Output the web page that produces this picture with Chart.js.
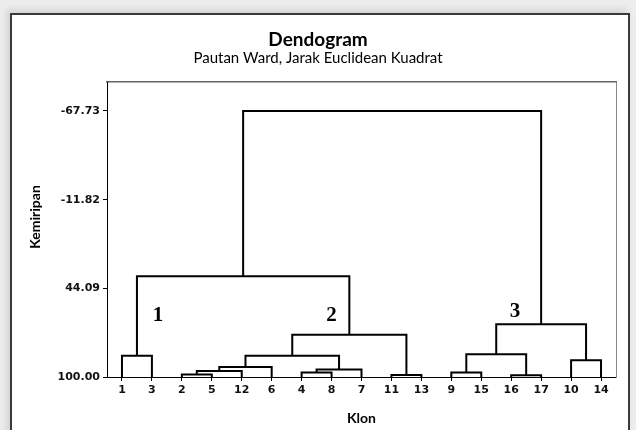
<!DOCTYPE html>
<html>
<head>
<meta charset="utf-8">
<script src="https://cdn.jsdelivr.net/npm/chart.js@4.4.1/dist/chart.umd.min.js"></script>
<style>
    html, body { margin: 0; padding: 0; }
    body { width: 636px; height: 430px; background: #ededed; position: relative; overflow: hidden; }
    .kotak { position: absolute; left: 10px; top: 13px; width: 620px; height: 440px; background: #fff;
             border: 2px solid #3a3a3a; box-sizing: border-box; box-shadow: -3px -3px 7px rgba(0,0,0,0.12); }
    canvas { position: absolute; left: 0; top: 0; }
</style>
</head>
<body>
<div class="kotak"></div>
<canvas id="dendoChart" width="636" height="430"></canvas>
<script>
// urutan klon di sumbu x
const klon = ["1", "3", "2", "5", "12", "6", "4", "8", "7", "11", "13", "9", "15", "16", "17", "10", "14"];

// penggabungan: m0..m15 (mN = hasil gabungan ke-N)
const gabungKiri  = ["1", "2", "m1", "m2", "4", "m4", "m3", "11", "m6", "m0", "9", "16", "m10", "10", "m12", "m9"];
const gabungKanan = ["3", "5", "12", "6", "8", "7", "m5", "13", "m7", "m8", "15", "17", "m11", "14", "m13", "m14"];
const tinggiGabung = [86.6, 98.5, 96.2, 93.7, 97.2, 95.3, 86.6, 98.7, 73.3, 36.4, 97.2, 98.9, 85.7, 89.5, 66.7, -67.73];

const tickKemiripan = [-67.73, -11.82, 44.09, 100.00];

const labelKelompok = ["1", "2", "3"];
const kelompokX = [2.2, 8.0, 14.13];
const kelompokY = [61.0, 61.0, 58.5];

const posisi = {};
klon.forEach((k, i) => {
    posisi[k] = { x: i + 1, y: 100 };
});

const datasets = [];
tinggiGabung.forEach((h, i) => {
    const a = posisi[gabungKiri[i]];
    const b = posisi[gabungKanan[i]];
    datasets.push({
        data: [
            { x: a.x, y: a.y },
            { x: a.x, y: h },
            { x: b.x, y: h },
            { x: b.x, y: b.y },
        ],
        showLine: true,
        borderColor: "#000",
        borderWidth: 2,
        borderJoinStyle: "miter",
        pointRadius: 0,
        tension: 0,
    });
    posisi["m" + i] = { x: (a.x + b.x) / 2, y: h };
});

const teksTambahan = {
    id: "teksTambahan",
    afterDatasetsDraw: (chart) => {
        const ctx = chart.ctx;
        const sx = chart.scales.x;
        const sy = chart.scales.y;
        ctx.save();
        ctx.fillStyle = "#000";
        ctx.textAlign = "center";
        ctx.textBaseline = "middle";
        ctx.font = "bold 21px 'Liberation Serif'";
        labelKelompok.forEach((t, i) => {
            ctx.fillText(t, sx.getPixelForValue(kelompokX[i]), sy.getPixelForValue(kelompokY[i]));
        });
        // judul sumbu y
        ctx.font = "bold 14px Lato";
        ctx.translate(35, 217);
        ctx.rotate(-Math.PI / 2);
        ctx.fillText("Kemiripan", 0, 0);
        ctx.restore();
    },
};

const fontTick = { family: "'DejaVu Sans'", size: 11, weight: "bold" };

new Chart(document.getElementById("dendoChart"), {
    type: "scatter",
    data: { datasets: datasets },
    plugins: [teksTambahan],
    options: {
        responsive: false,
        animation: false,
        layout: { padding: 0 },
        scales: {
            x: {
                type: "linear",
                min: 0.5,
                max: 17.5,
                afterBuildTicks: (scale) => {
                    scale.ticks = klon.map((k, i) => ({ value: i + 1 }));
                },
                afterFit: (scale) => {
                    scale.height = 53;
                },
                ticks: {
                    autoSkip: false,
                    maxRotation: 0,
                    color: "#111",
                    font: fontTick,
                    padding: 3,
                    callback: (v) => klon[v - 1],
                },
                grid: { drawOnChartArea: false, tickLength: 4, color: "#000" },
                border: { color: "#000", width: 1 },
                title: {
                    display: true,
                    text: "Klon",
                    color: "#000",
                    font: { family: "Lato", size: 14, weight: "bold" },
                    padding: { top: 0, bottom: 3 },
                },
            },
            xAtas: {
                type: "linear",
                position: "top",
                min: 0.5,
                max: 17.5,
                ticks: { display: false },
                grid: { display: false },
                border: { color: "#666", width: 1.5 },
                afterFit: (scale) => {
                    scale.height = 0;
                },
            },
            y: {
                type: "linear",
                reverse: true,
                min: -86,
                max: 100,
                afterBuildTicks: (scale) => {
                    scale.ticks = tickKemiripan.map((v) => ({ value: v }));
                },
                afterFit: (scale) => {
                    scale.width = 107;
                },
                ticks: {
                    color: "#111",
                    font: fontTick,
                    padding: 3,
                    callback: (v) => v.toFixed(2),
                },
                grid: { drawOnChartArea: false, tickLength: 4, color: "#000" },
                border: { color: "#000", width: 1 },
            },
            yKanan: {
                type: "linear",
                position: "right",
                reverse: true,
                min: -86,
                max: 100,
                ticks: { display: false },
                grid: { display: false },
                border: { color: "#888", width: 1 },
                afterFit: (scale) => {
                    scale.width = 20;
                },
            },
        },
        plugins: {
            legend: { display: false },
            tooltip: { enabled: false },
            title: {
                display: true,
                text: "Dendogram",
                color: "#000",
                font: { family: "Lato", size: 19, weight: "bold", lineHeight: 1 },
                padding: { top: 30.5, bottom: 0 },
            },
            subtitle: {
                display: true,
                text: "Pautan Ward, Jarak Euclidean Kuadrat",
                color: "#000",
                font: { family: "Lato", size: 15, lineHeight: 1.2 },
                padding: { top: 0, bottom: 14.5 },
            },
        },
    },
});
</script>
</body>
</html>
